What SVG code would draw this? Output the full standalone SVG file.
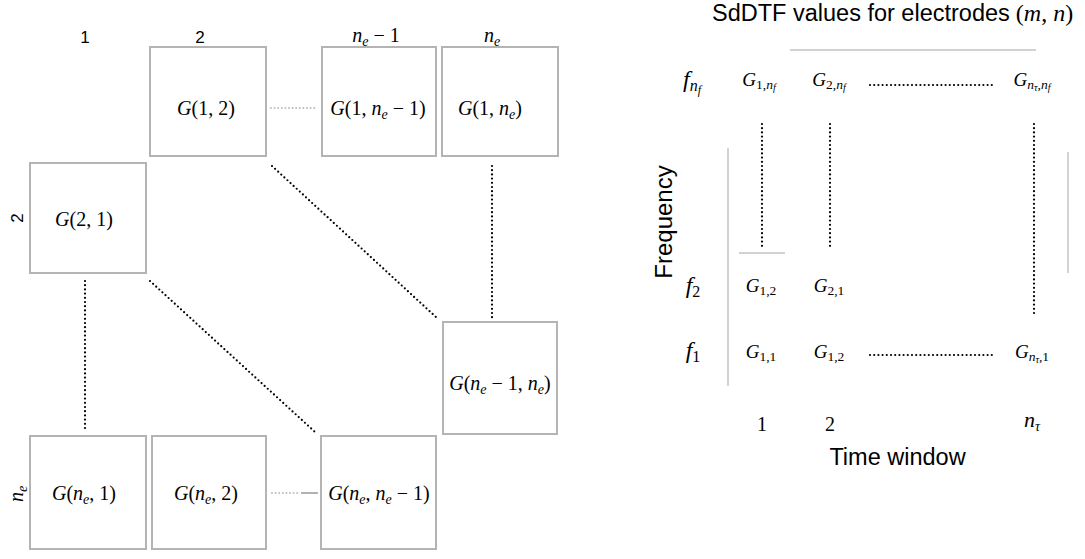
<svg xmlns="http://www.w3.org/2000/svg" width="1085" height="559" viewBox="0 0 1085 559">
<style>
.box{fill:#fff;stroke:#b4b4b4;stroke-width:2}
.s{font-family:"Liberation Sans",Arial,sans-serif;fill:#000}
.mt{font-family:"Liberation Serif","Times New Roman",serif;fill:#000}
.i{font-style:italic}
.bl{font-size:20px}
.sb{font-size:14px;font-style:italic}
.gv{font-size:19px}
.gs{font-size:13.5px}
.gss{font-size:10px;font-style:italic}
.dot{stroke:#000;stroke-width:2.2;stroke-dasharray:0 4.2;stroke-linecap:round;fill:none}
.gdot{stroke:#bbb;stroke-width:2;stroke-dasharray:0 3.6;stroke-linecap:round;fill:none}
.gl{stroke:#d2d2d2;stroke-width:2;fill:none}
</style>
<rect width="1085" height="559" fill="#fff"/>

<!-- column / row labels -->
<g id="labels-left">
<text class="s" x="85" y="43" font-size="17" text-anchor="middle">1</text>
<text class="s" x="200" y="43" font-size="17" text-anchor="middle">2</text>
<text class="mt" x="376" y="42" font-size="20" text-anchor="middle"><tspan class="i">n</tspan><tspan class="sb" dy="4">e</tspan><tspan dy="-4"> − 1</tspan></text>
<text class="mt" x="492" y="42" font-size="20" text-anchor="middle"><tspan class="i">n</tspan><tspan class="sb" dy="4">e</tspan></text>
<text class="s" font-size="17" text-anchor="middle" transform="translate(23,218) rotate(-90)">2</text>
<text class="mt" font-size="20" text-anchor="middle" transform="translate(23,494) rotate(-90)"><tspan class="i">n</tspan><tspan class="sb" dy="4">e</tspan></text>
</g>

<g id="connectors">
<line class="dot" x1="272" y1="166" x2="437" y2="318"/>
<line class="dot" x1="150" y1="281" x2="315" y2="432"/>
<line class="dot" x1="85" y1="281" x2="85" y2="432"/>
<line class="dot" x1="492" y1="166" x2="492" y2="320"/>
<line class="gdot" x1="271" y1="108" x2="316" y2="108"/>
<line class="gdot" x1="272" y1="493" x2="298" y2="493"/>
<line x1="301" y1="493" x2="318" y2="493" stroke="#999" stroke-width="1.5"/>
<line class="dot" x1="870" y1="85" x2="995" y2="85"/>
<line class="dot" x1="870" y1="355" x2="993" y2="355"/>
<line class="dot" x1="762" y1="124" x2="762" y2="247"/>
<line class="dot" x1="830" y1="124" x2="830" y2="247"/>
<line class="dot" x1="1034" y1="124" x2="1034" y2="314"/>
</g>

<g id="n-1-2"><rect class="box" x="150" y="47" width="116" height="109"/>
<text class="mt bl" x="206" y="115" text-anchor="middle"><tspan class="i">G</tspan>(1, 2)</text></g>
<g id="n-1-ne1"><rect class="box" x="322" y="47" width="114" height="109"/>
<text class="mt bl" x="378" y="115" text-anchor="middle"><tspan class="i">G</tspan>(1, <tspan class="i">n</tspan><tspan class="sb" dy="4">e</tspan><tspan dy="-4"> − 1)</tspan></text></g>
<g id="n-1-ne"><rect class="box" x="442" y="47" width="116" height="109"/>
<text class="mt bl" x="490" y="115" text-anchor="middle"><tspan class="i">G</tspan>(1, <tspan class="i">n</tspan><tspan class="sb" dy="4">e</tspan><tspan dy="-4">)</tspan></text></g>
<g id="n-2-1"><rect class="box" x="30" y="163" width="116" height="110"/>
<text class="mt bl" x="84" y="226" text-anchor="middle"><tspan class="i">G</tspan>(2, 1)</text></g>
<g id="n-ne1-ne"><rect class="box" x="443" y="322" width="114" height="112"/>
<text class="mt bl" x="500" y="390" text-anchor="middle"><tspan class="i">G</tspan>(<tspan class="i">n</tspan><tspan class="sb" dy="4">e</tspan><tspan dy="-4"> − 1, </tspan><tspan class="i">n</tspan><tspan class="sb" dy="4">e</tspan><tspan dy="-4">)</tspan></text></g>
<g id="n-ne-1"><rect class="box" x="30" y="436" width="116" height="113"/>
<text class="mt bl" x="84" y="500" text-anchor="middle"><tspan class="i">G</tspan>(<tspan class="i">n</tspan><tspan class="sb" dy="4">e</tspan><tspan dy="-4">, 1)</tspan></text></g>
<g id="n-ne-2"><rect class="box" x="152" y="436" width="114" height="113"/>
<text class="mt bl" x="206" y="500" text-anchor="middle"><tspan class="i">G</tspan>(<tspan class="i">n</tspan><tspan class="sb" dy="4">e</tspan><tspan dy="-4">, 2)</tspan></text></g>
<g id="n-ne-ne1"><rect class="box" x="321" y="436" width="115" height="113"/>
<text class="mt bl" x="379" y="500" text-anchor="middle"><tspan class="i">G</tspan>(<tspan class="i">n</tspan><tspan class="sb" dy="4">e</tspan><tspan dy="-4">, </tspan><tspan class="i">n</tspan><tspan class="sb" dy="4">e</tspan><tspan dy="-4"> − 1)</tspan></text></g>

<!-- right panel -->
<g id="right-panel">
<text class="s" x="712" y="21" font-size="23.5">SdDTF values for electrodes<tspan class="mt" font-size="24" dx="6">(<tspan class="i">m</tspan>, <tspan class="i">n</tspan>)</tspan></text>
<line class="gl" x1="790" y1="50" x2="1036" y2="50"/>
<line class="gl" x1="728" y1="148" x2="728" y2="386"/>
<line class="gl" x1="1068" y1="152" x2="1068" y2="273"/>
<line class="gl" x1="739" y1="253" x2="785" y2="253"/>

<text class="mt" x="692" y="87" font-size="24" text-anchor="middle"><tspan class="i">f</tspan><tspan class="i" font-size="16" dy="4">n</tspan><tspan class="i" font-size="12" dy="3">f</tspan></text>
<text class="mt" x="693" y="293" font-size="24" text-anchor="middle"><tspan class="i">f</tspan><tspan font-size="16" dy="4">2</tspan></text>
<text class="mt" x="693" y="358" font-size="24" text-anchor="middle"><tspan class="i">f</tspan><tspan font-size="16" dy="4">1</tspan></text>

<g id="g-1-nf"><text class="mt gv" x="759" y="86" text-anchor="middle"><tspan class="i">G</tspan><tspan class="gs" dy="3">1,</tspan><tspan class="i gs">n</tspan><tspan class="gss" dy="2">f</tspan></text></g>
<g id="g-2-nf"><text class="mt gv" x="829" y="86" text-anchor="middle"><tspan class="i">G</tspan><tspan class="gs" dy="3">2,</tspan><tspan class="i gs">n</tspan><tspan class="gss" dy="2">f</tspan></text></g>
<g id="g-nt-nf"><text class="mt gv" x="1032" y="86" text-anchor="middle"><tspan class="i">G</tspan><tspan class="i gs" dy="3">n</tspan><tspan class="gss" dy="2">τ</tspan><tspan class="gs" dy="-2">,</tspan><tspan class="i gs">n</tspan><tspan class="gss" dy="2">f</tspan></text></g>
<g id="g-1-2"><text class="mt gv" x="761" y="292" text-anchor="middle"><tspan class="i">G</tspan><tspan class="gs" dy="3">1,2</tspan></text></g>
<g id="g-2-1"><text class="mt gv" x="829" y="292" text-anchor="middle"><tspan class="i">G</tspan><tspan class="gs" dy="3">2,1</tspan></text></g>
<g id="g-1-1"><text class="mt gv" x="761" y="358" text-anchor="middle"><tspan class="i">G</tspan><tspan class="gs" dy="3">1,1</tspan></text></g>
<g id="g-1-2b"><text class="mt gv" x="829" y="358" text-anchor="middle"><tspan class="i">G</tspan><tspan class="gs" dy="3">1,2</tspan></text></g>
<g id="g-nt-1"><text class="mt gv" x="1032" y="358" text-anchor="middle"><tspan class="i">G</tspan><tspan class="i gs" dy="3">n</tspan><tspan class="gss" dy="2">τ</tspan><tspan class="gs" dy="-2">,1</tspan></text></g>

<text class="mt" x="762" y="431" font-size="20" text-anchor="middle">1</text>
<text class="mt" x="830" y="431" font-size="20" text-anchor="middle">2</text>
<text class="mt" x="1032" y="427" font-size="22" text-anchor="middle"><tspan class="i">n</tspan><tspan class="i" font-size="14" dy="4">τ</tspan></text>
<text class="s" x="897.5" y="465" font-size="23.5" text-anchor="middle">Time window</text>
<text class="s" font-size="24" text-anchor="middle" transform="translate(672,222) rotate(-90)">Frequency</text>
</g>
</svg>
